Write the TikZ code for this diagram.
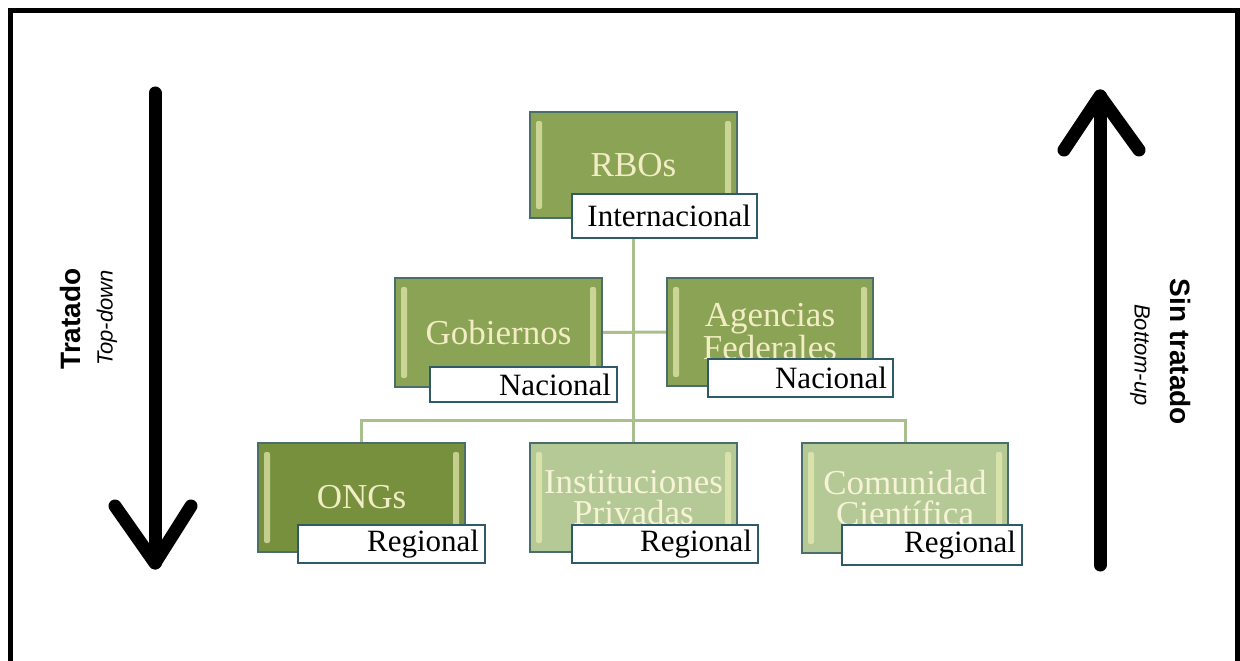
\documentclass[tikz,border=0pt]{standalone}
\usepackage{fontspec}
\setmainfont{Liberation Serif}
\newfontfamily\arialf{Liberation Sans}
\usetikzlibrary{calc,backgrounds}
\definecolor{midg}{HTML}{8BA355}
\definecolor{darkg}{HTML}{77903E}
\definecolor{lightg}{HTML}{B5C996}
\definecolor{creamt}{HTML}{F2EDC4}
\definecolor{boxedge}{HTML}{4A6E6A}
\definecolor{labedge}{HTML}{2E5A6A}
\definecolor{connc}{HTML}{A9C08C}
\definecolor{bevc}{HTML}{EEF0B8}
\tikzset{
  orgbox/.style={draw=boxedge, line width=1.3pt, inner sep=0pt, align=center,
    text=creamt, font=\fontsize{35}{31}\selectfont,
    path picture={
      \fill[bevc, opacity=0.65, rounded corners=2pt]
        ([xshift=6pt,yshift=-9pt]path picture bounding box.north west) rectangle
        ([xshift=12pt,yshift=9pt]path picture bounding box.south west);
      \fill[bevc, opacity=0.65, rounded corners=2pt]
        ([xshift=-12pt,yshift=-9pt]path picture bounding box.north east) rectangle
        ([xshift=-6pt,yshift=9pt]path picture bounding box.south east);
    }},
  labbox/.style={draw=labedge, line width=1.6pt, fill=white, inner xsep=6pt, inner ysep=0pt,
    align=right, text=black, font=\fontsize{31}{33}\selectfont},
  conn/.style={draw=connc, line width=3pt},
  bigline/.style={line width=13pt, line cap=round, line join=round, black},
  frameline/.style={line width=5pt, black}
}
\begin{document}
\begin{tikzpicture}[x=1pt,y=-1pt]
\useasboundingbox (0,0) rectangle (1240,661);
\draw[frameline] (10,661) -- (10,11) -- (1237,11) -- (1237,661);

% boxes
\node[orgbox, fill=midg, minimum width=207, minimum height=106] (rbo) at (633.5,165) {RBOs};
\node[orgbox, fill=midg, minimum width=207, minimum height=109] (gob) at (498.5,332.5) {Gobiernos};
\node[orgbox, fill=midg, minimum width=206, minimum height=108] (age) at (770,332) {Agencias\\Federales};
\node[orgbox, fill=darkg, minimum width=207, minimum height=109] (ong) at (361.5,497.5) {ONGs};
\node[orgbox, fill=lightg, text=creamt!70!white, minimum width=207, minimum height=109] (ins) at (633.5,497.5) {Instituciones\\Privadas};
\node[orgbox, fill=lightg, text=creamt!70!white, minimum width=206, minimum height=110] (com) at (905,498) {Comunidad\\Científica};

% labels
\node[labbox, text width=173, minimum height=44] (lrbo) at (664.5,216) {Internacional};
\node[labbox, text width=175, minimum height=35] (lgob) at (523.5,384.5) {Nacional};
\node[labbox, text width=173, minimum height=38] (lage) at (800.5,378) {Nacional};
\node[labbox, text width=175, minimum height=38] (long) at (391.5,544) {Regional};
\node[labbox, text width=174, minimum height=38] (lins) at (665,544) {Regional};
\node[labbox, text width=168, minimum height=40] (lcom) at (932,545) {Regional};

% connectors
\coordinate (bus) at (633.5,420);
\begin{scope}[on background layer]
\draw[conn] (rbo.south) -- (ins.north);
\draw[conn] (gob.east) -- (age.west);
\draw[conn] (ong.north) |- (bus) -| (com.north);
\end{scope}

% arrows
\coordinate (lt) at (155,93);
\coordinate (lb) at (155,563);
\coordinate (la) at (115,506);
\coordinate (lc) at (191,506);
\draw[bigline] (lt) -- (lb);
\draw[bigline] (la) -- (lb) -- (lc);

\coordinate (rb) at (1100,565);
\coordinate (rt) at (1100,96);
\coordinate (ra) at (1064,150);
\coordinate (rc) at (1139,150);
\draw[bigline] (rb) -- (rt);
\draw[bigline] (ra) -- (rt) -- (rc);

% side texts
\node[rotate=90, font=\arialf\bfseries\fontsize{28}{30}\selectfont] (trat) at (70,319) {Tratado};
\node[rotate=90, font=\arialf\itshape\fontsize{22}{24}\selectfont] (topd) at (107,318) {Top-down};
\node[rotate=-90, font=\arialf\bfseries\fontsize{28}{30}\selectfont] (sint) at (1180,352) {Sin tratado};
\node[rotate=-90, font=\arialf\itshape\fontsize{22}{24}\selectfont] (botu) at (1140,355) {Bottom-up};
\end{tikzpicture}
\end{document}
